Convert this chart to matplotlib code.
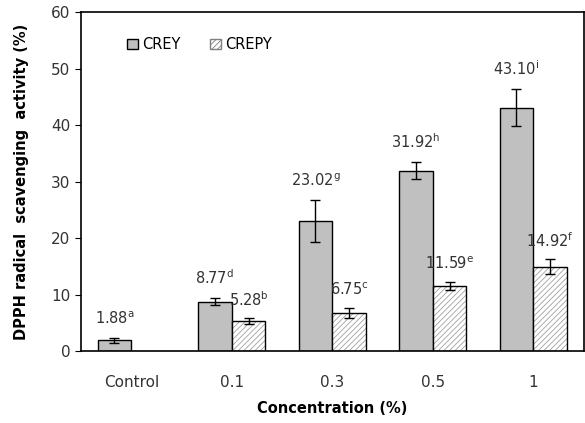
import numpy as np
import matplotlib
matplotlib.use("Agg")
import matplotlib.pyplot as plt

plt.rcParams['font.family'] = ['Liberation Sans Narrow', 'DejaVu Sans']
plt.rcParams['mathtext.fontset'] = 'custom'
plt.rcParams['mathtext.rm'] = 'Liberation Sans Narrow'
plt.rcParams['hatch.linewidth'] = 0.6

categories = ['Control', '0.1', '0.3', '0.5', '1']
crey = [1.88, 8.77, 23.02, 31.92, 43.10]
crey_err = [0.4, 0.6, 3.7, 1.5, 3.3]
crey_sup = ['a', 'd', 'g', 'h', 'i']
crepy = [np.nan, 5.28, 6.75, 11.59, 14.92]
crepy_err = [np.nan, 0.5, 0.9, 0.7, 1.3]
crepy_sup = ['', 'b', 'c', 'e', 'f']

fig = plt.figure(figsize=(5.85, 4.23), dpi=100)
ax = fig.add_axes([0.1385, 0.170, 0.859, 0.8016])

x = np.arange(len(categories))
w = 0.335
ekw = dict(elinewidth=1, capthick=1, ecolor='black')
ax.bar(x - w / 2, crey, w, color='#c0c0c0', edgecolor='black', linewidth=1,
       yerr=crey_err, capsize=3.5, error_kw=ekw, label='CREY')
# hatched fill in light grey, then black outline on top
ax.bar(x + w / 2, crepy, w, color='white', edgecolor='#a0a0a0', linewidth=0, hatch='//////')
ax.bar(x + w / 2, crepy, w, fill=False, edgecolor='black', linewidth=1,
       yerr=crepy_err, capsize=3.5, error_kw=ekw)
# legend proxy
ax.bar([0], [np.nan], w, color='white', edgecolor='#808080', linewidth=1, hatch='//////', label='CREPY')

for xi, v, e, s in zip(x - w / 2, crey, crey_err, crey_sup):
    ax.annotate('%.2f$^{\\mathregular{%s}}$' % (v, s), (xi, v + e), xytext=(0, 8),
                textcoords='offset points', ha='center', va='bottom', fontsize=10.5, color='#333333')
for xi, v, e, s in zip(x + w / 2, crepy, crepy_err, crepy_sup):
    if np.isnan(v):
        continue
    ax.annotate('%.2f$^{\\mathregular{%s}}$' % (v, s), (xi, v + e), xytext=(0, 7),
                textcoords='offset points', ha='center', va='bottom', fontsize=10.5, color='#333333')

ax.set_xlim(-0.5, 4.5)
ax.set_ylim(0, 60)
ax.set_yticks(range(0, 61, 10))
ax.set_xticks(x)
ax.set_xticklabels(categories)
ax.tick_params(axis='x', length=0, pad=17, labelsize=11, labelcolor='#333333')
ax.tick_params(axis='y', length=4, direction='out', labelsize=11, labelcolor='#333333')
for sp in ax.spines.values():
    sp.set_linewidth(1.2)

ax.set_ylabel('DPPH radical  scavenging  activity (%)', fontsize=10.5, fontweight='bold', labelpad=16)
ax.set_xlabel('Concentration (%)', fontsize=10.5, fontweight='bold', labelpad=8)

ax.legend(loc='upper left', bbox_to_anchor=(0.065, 0.965), ncol=2, frameon=False, fontsize=10.5,
          handlelength=0.75, handleheight=0.75, handletextpad=0.3, columnspacing=2.0)

plt.savefig('out.png', dpi=100)
